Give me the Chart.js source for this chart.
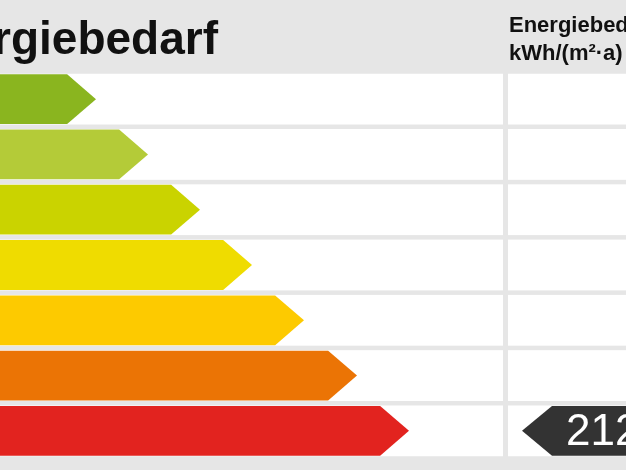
<!DOCTYPE html>
<html>
<head>
<meta charset="utf-8">
<script src="https://cdn.jsdelivr.net/npm/chart.js@4.4.1/dist/chart.umd.min.js"></script>
<style>
    html, body { margin: 0; padding: 0; background: #e6e6e6; }
    #wrap { width: 626px; height: 470px; position: relative; }
</style>
</head>
<body>
<div id="wrap"><canvas id="energyChart"></canvas></div>
<script>
// Effizienzklassen und Pfeillängen (Spitze, in Pixel-Einheiten der x-Achse)
const classLabels = ['A', 'B', 'C', 'D', 'E', 'F', 'G'];
const arrowLengths = [96, 148, 200, 252, 304, 357, 409];
const classColors = ['#8ab51f', '#b4cb38', '#cad300', '#efdc00', '#fdca00', '#eb7405', '#e2231f'];
const titleText = 'Energiebedarf';
const headerLines = ['Energiebedarf', 'kWh/(m²·a)'];
const markerValue = 212;
const markerClass = 'G';

document.addEventListener('DOMContentLoaded', function() {
    const ctxEl = document.getElementById('energyChart');

    const labelPlugin = {
        id: 'energyLabel',
        beforeDraw(chart) {
            const ctx = chart.ctx;
            const yScale = chart.scales.y;
            const band = (chart.chartArea.bottom - chart.chartArea.top) / classLabels.length;
            ctx.save();
            ctx.fillStyle = '#e6e6e6';
            ctx.fillRect(0, 0, chart.width, chart.height);
            // weiße Zeilen links und rechts
            ctx.fillStyle = '#ffffff';
            classLabels.forEach((c, i) => {
                const yc = yScale.getPixelForValue(i);
                const h = band - 4.5;
                ctx.fillRect(0, yc - h / 2, 503, h);
                ctx.fillRect(508, yc - h / 2, chart.width - 508, h);
            });
            ctx.restore();
        },
        afterDatasetsDraw(chart) {
            const ctx = chart.ctx;
            const meta = chart.getDatasetMeta(0);
            ctx.save();
            meta.data.forEach((bar, i) => {
                const p = bar.getProps(['x', 'y', 'base', 'height'], true);
                const half = p.height / 2;
                const depth = half * 1.16;
                ctx.beginPath();
                ctx.moveTo(p.base - 5, p.y - half);
                ctx.lineTo(p.x - depth, p.y - half);
                ctx.lineTo(p.x, p.y);
                ctx.lineTo(p.x - depth, p.y + half);
                ctx.lineTo(p.base - 5, p.y + half);
                ctx.closePath();
                ctx.fillStyle = classColors[i];
                ctx.fill();
            });

            // Markierung mit dem Kennwert
            const mi = classLabels.indexOf(markerClass);
            const mp = meta.data[mi].getProps(['y', 'height'], true);
            const mh = mp.height / 2;
            ctx.beginPath();
            ctx.moveTo(522, mp.y);
            ctx.lineTo(552, mp.y - mh);
            ctx.lineTo(chart.width + 5, mp.y - mh);
            ctx.lineTo(chart.width + 5, mp.y + mh);
            ctx.lineTo(552, mp.y + mh);
            ctx.closePath();
            ctx.fillStyle = '#333333';
            ctx.fill();
            ctx.fillStyle = '#ffffff';
            ctx.font = '44px "Liberation Sans", Arial, sans-serif';
            ctx.textAlign = 'left';
            ctx.textBaseline = 'alphabetic';
            ctx.fillText(String(markerValue), 566, mp.y + 14);

            // Überschriften
            ctx.fillStyle = '#111111';
            ctx.font = 'bold 46px "Liberation Sans", Arial, sans-serif';
            ctx.textAlign = 'right';
            ctx.fillText(titleText, 218, 53.5);
            ctx.font = 'bold 22px "Liberation Sans", Arial, sans-serif';
            ctx.textAlign = 'left';
            ctx.fillText(headerLines[0], 509, 32);
            ctx.fillText(headerLines[1], 509, 60);
            ctx.restore();
        }
    };

    new Chart(ctxEl, {
        type: 'bar',
        data: {
            labels: classLabels,
            datasets: [{
                label: titleText,
                data: arrowLengths,
                backgroundColor: 'rgba(0, 0, 0, 0)',
                borderWidth: 0,
                barPercentage: 0.9,
                categoryPercentage: 1.0
            }]
        },
        options: {
            indexAxis: 'y',
            responsive: true,
            maintainAspectRatio: false,
            animation: false,
            layout: {
                padding: { top: 71.5, bottom: 11.5, left: 0, right: 0 }
            },
            plugins: {
                legend: { display: false },
                tooltip: { enabled: false },
                title: { display: false }
            },
            scales: {
                x: {
                    display: false,
                    min: 0,
                    max: 626
                },
                y: {
                    display: false
                }
            }
        },
        plugins: [labelPlugin]
    });
});
</script>
</body>
</html>
